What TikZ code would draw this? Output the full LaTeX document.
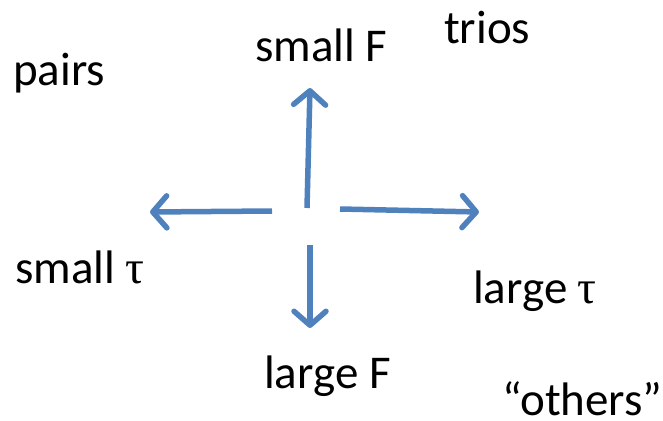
\documentclass[tikz,border=0pt]{standalone}
\usepackage{fontspec}
\setmainfont{Carlito}
\newfontfamily\greekfont{Liberation Serif}
\usepackage{xcolor}
\usetikzlibrary{arrows.meta,positioning}
\definecolor{arrowblue}{HTML}{4F81BD}

\begin{document}
\begin{tikzpicture}[x=1pt, y=-1pt, >={Straight Barb[length=14pt,width=32pt,round]}]
\tikzstyle{lbl}=[inner sep=0pt, anchor=base west, font=\fontsize{47}{56}\selectfont]
\tikzstyle{arr}=[->, draw=arrowblue, line width=5.5pt]
\useasboundingbox (0,0) rectangle (663,420);
% labels
\node[lbl] (pairs) at (13,85) {pairs};
\node[lbl] (smallF) at (255,62) {small F};
\node[lbl] (trios) at (444,44) {trios};
\node[lbl] (smalltau) at (15,283) {small {\greekfont τ}};
\node[lbl] (largetau) at (473,303) {large {\greekfont τ}};
\node[lbl] (largeF) at (264,388) {large F};
\node[lbl] (others) at (502,415) {“others”};
% arrow ends
\coordinate (upA) at (307,208);
\coordinate (upB) at (310,88);
\coordinate (leftA) at (272,211);
\coordinate (leftB) at (150,212);
\coordinate (rightA) at (340,209);
\coordinate (rightB) at (479,212);
\coordinate (downA) at (310,245);
\coordinate (downB) at (310,328);
\draw[arr] (upA) -- (upB);
\draw[arr] (leftA) -- (leftB);
\draw[arr] (rightA) -- (rightB);
\draw[arr] (downA) -- (downB);
\end{tikzpicture}
\end{document}
